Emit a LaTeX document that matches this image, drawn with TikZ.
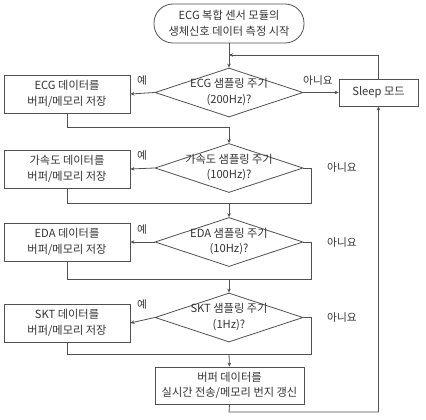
\documentclass[tikz,border=0pt]{standalone}
\usepackage{fontspec}
\setmainfont{Noto Sans CJK KR}
\usetikzlibrary{shapes.geometric,arrows.meta}
\definecolor{ln}{HTML}{505050}
\definecolor{tx}{HTML}{333333}
\begin{document}
\begin{tikzpicture}[x=1pt,y=-1pt,
  every node/.style={text=tx,font=\fontsize{11.2}{15.5}\selectfont,align=center},
  box/.style={draw=ln,line width=0.8pt,rectangle,inner sep=0pt},
  dec/.style={draw=ln,line width=0.8pt,diamond,inner sep=0pt,minimum width=148pt,minimum height=49pt},
  conn/.style={draw=ln,line width=0.8pt},
  arr/.style={conn,-{Stealth[length=4pt,width=3.5pt]}},
  lab/.style={font=\fontsize{10.7}{12}\selectfont}]
\useasboundingbox (0,0) rectangle (426,420);
\node[box,rounded corners=19pt,minimum width=150pt,minimum height=39pt] (start) at (229,23.5) {ECG 복합 센서 모듈의\\생체신호 데이터 측정 시작};
\node[dec] (d1) at (229,92.5) {};
\node at (229,92) {ECG 샘플링 주기\\(200Hz)?};
\node[box,minimum width=126pt,minimum height=38pt] (b1) at (67,94) {ECG 데이터를\\버퍼/메모리 저장};
\node[box,minimum width=79pt,minimum height=27pt] (sleep) at (378.5,92.5) {Sleep 모드};
\node[dec] (d2) at (229,168) {};
\node at (229,167.5) {가속도 샘플링 주기\\(100Hz)?};
\node[box,minimum width=126pt,minimum height=38pt] (b2) at (67,169) {가속도 데이터를\\버퍼/메모리 저장};
\node[dec] (d3) at (229,242) {};
\node at (229,241.5) {EDA 샘플링 주기\\(10Hz)?};
\node[box,minimum width=126pt,minimum height=38pt] (b3) at (67,242) {EDA 데이터를\\버퍼/메모리 저장};
\node[dec] (d4) at (229,317.5) {};
\node at (229,317) {SKT 샘플링 주기\\(1Hz)?};
\node[box,minimum width=126pt,minimum height=38pt] (b4) at (67,323) {SKT 데이터를\\버퍼/메모리 저장};
\node[box,minimum width=149pt,minimum height=37pt] (fin) at (229.5,385.5) {버퍼 데이터를\\실시간 전송/메모리 번지 갱신};
% labels
\node[lab] (y1) at (142,80) {예};
\node[lab] (y2) at (142,155) {예};
\node[lab] (y3) at (142,229) {예};
\node[lab] (y4) at (142,304) {예};
\node[lab] (n1) at (318,80) {아니요};
\node[lab] (n2) at (342,167) {아니요};
\node[lab] (n3) at (342,242) {아니요};
\node[lab] (n4) at (342,317) {아니요};
% coordinates
\coordinate (fb) at (229,55);
\coordinate (m1) at (229,127);
\coordinate (m2) at (229,203);
\coordinate (m3) at (229,279);
\coordinate (m4) at (229,354);
\coordinate (bot) at (229,412);
\coordinate (r2) at (311,168);
\coordinate (r3) at (311,242);
\coordinate (r4) at (311,317.5);
% connectors
\draw[arr] (start.south) -- (d1.north);
\draw[arr] (sleep.north) |- (fb);
\draw[arr] (d1.west) -- (b1.east);
\draw[arr] (d1.east) -- (sleep.west);
\draw[conn] (b1.south) |- (m1);
\draw[arr] (m1) -- (d2.north);
\draw[arr] (d2.west) -- (b2.east);
\draw[conn] (d2.east) -- (r2) |- (m2);
\draw[conn] (b2.south) |- (m2);
\draw[arr] (m2) -- (d3.north);
\draw[arr] (d3.west) -- (b3.east);
\draw[conn] (d3.east) -- (r3) |- (m3);
\draw[conn] (b3.south) |- (m3);
\draw[arr] (m3) -- (d4.north);
\draw[arr] (d4.west) -- (b4.east);
\draw[conn] (d4.east) -- (r4) |- (m4);
\draw[conn] (b4.south) |- (m4);
\draw[arr] (m4) -- (fin.north);
\draw[arr] (fin.south) -- (bot) -| (sleep.south);
\end{tikzpicture}
\end{document}
